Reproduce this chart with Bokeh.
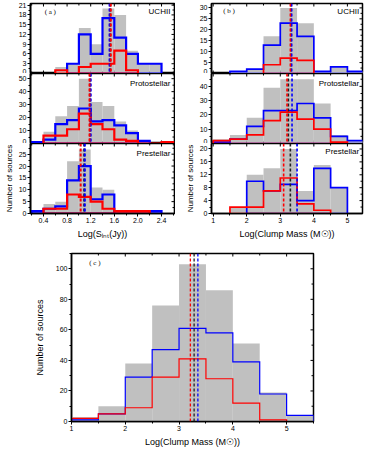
import numpy as np
from bokeh.plotting import figure
from bokeh.layouts import column, row
from bokeh.models import Span, Label, Spacer, Range1d, FixedTicker, PrintfTickFormatter
from bokeh.embed import file_html
from bokeh.resources import INLINE

# ---------------- data ----------------
# panel (a): Log(S_int) histograms, bin edges
A_EDGES = [0.2, 0.4, 0.6, 0.8, 1.0, 1.2, 1.4, 1.6, 1.8, 2.0, 2.2, 2.4, 2.6]
A_UCHII_ALL = [0, 0, 2, 3, 14, 9, 20, 18, 7, 3, 3, 0]
A_UCHII_BLUE = [0, 0, 0, 3, 12, 6, 17, 11, 6, 3, 3, 0]
A_UCHII_RED = [0, 0, 1, 0, 2, 3, 3, 7, 1, 0, 0, 0]
A_PROTO_ALL = [1, 9, 21, 29, 50, 32, 29, 17, 10, 2, 0, 1]
A_PROTO_BLUE = [1, 3, 15, 18, 27, 17, 18, 14, 8, 2, 0, 0]
A_PROTO_RED = [0, 6, 6, 11, 23, 15, 11, 3, 2, 0, 0, 1]
A_PRE_ALL = [1, 4, 5, 22, 27, 11, 10, 1, 1, 1, 1, 0]
A_PRE_BLUE = [1, 2, 3, 14, 20, 6, 8, 0, 0, 0, 1, 0]
A_PRE_RED = [0, 2, 2, 8, 7, 5, 2, 1, 1, 1, 0, 0]
# median lines: [red, black, blue]
A_UCHII_MED = [1.54, 1.53, 1.52]
A_PROTO_MED = [1.18, 1.19, 1.20]
A_PRE_MED = [1.03, 1.09, 1.10]

# panel (b): Log(Clump Mass) histograms
B_EDGES = [1.0, 1.5, 2.0, 2.5, 3.0, 3.5, 4.0, 4.5, 5.0, 5.5]
B_UCHII_ALL = [0, 1, 2, 17, 30, 23, 1, 3, 1]
B_UCHII_BLUE = [0, 1, 2, 13, 23, 17, 1, 3, 1]
B_UCHII_RED = [0, 0, 0, 4, 7, 6, 0, 0, 0]
B_PROTO_ALL = [3, 6, 18, 39, 45, 45, 28, 6, 2]
B_PROTO_BLUE = [1, 3, 12, 23, 23, 28, 18, 5, 2]
B_PROTO_RED = [2, 3, 6, 16, 22, 17, 10, 1, 0]
B_PRE_ALL = [0, 2, 12, 14, 20, 7, 15, 8, 0]
B_PRE_BLUE = [0, 0, 10, 7, 9, 4, 14, 8, 0]
B_PRE_RED = [0, 2, 2, 7, 11, 3, 1, 0, 0]
B_UCHII_MED = [3.30, 3.32, 3.34]
B_PROTO_MED = [3.20, 3.24, 3.35]
B_PRE_MED = [3.10, 3.30, 3.50]

# panel (c): all clumps
C_EDGES = [1.0, 1.5, 2.0, 2.5, 3.0, 3.5, 4.0, 4.5, 5.0, 5.5]
C_ALL = [3, 10, 38, 76, 103, 86, 51, 19, 4]
C_BLUE = [1, 5, 29, 47, 61, 58, 39, 18, 4]
C_RED = [2, 5, 9, 29, 41, 28, 12, 1, 0]
C_MED = [3.21, 3.28, 3.35]

# ticks
A_XTICKS = [0.4, 0.8, 1.2, 1.6, 2.0, 2.4]
A_XMINOR = [0.2, 0.6, 1.0, 1.4, 1.8, 2.2, 2.6]
M_XTICKS = [1, 2, 3, 4, 5]
M_XMINOR = [1.5, 2.5, 3.5, 4.5, 5.5]
A_UCHII_YT = [0, 3, 6, 9, 12, 15, 18, 21]
A_PROTO_YT = [0, 10, 20, 30, 40, 50]
A_PRE_YT = [0, 5, 10, 15, 20, 25]
B_UCHII_YT = [0, 5, 10, 15, 20, 25, 30]
B_PROTO_YT = [0, 10, 20, 30, 40]
B_PRE_YT = [0, 4, 8, 12, 16, 20]
C_YT = [0, 20, 40, 60, 80, 100]

GRAY = "#c0c0c0"
BLUE = "#0000ff"
RED = "#ff0000"
BLACK = "#000000"
FONT = "Liberation Sans"
SERIF = "Liberation Serif"


def halves(ticks):
    t = np.asarray(ticks, float)
    d = t[1] - t[0]
    return list(np.concatenate([t[:-1] + d / 2, [t[-1] + d / 2]]))


def outline(edges, counts):
    e = np.asarray(edges, float)
    c = np.asarray(counts, float)
    nz = np.nonzero(c)[0]
    i0, i1 = nz[0], nz[-1] + 1
    ee = e[i0:i1 + 1]
    cc = c[i0:i1]
    xs = np.concatenate([[ee[0]], np.column_stack([ee[:-1], ee[1:]]).ravel(), [ee[-1], ee[0]]])
    ys = np.concatenate([[0.0], np.repeat(cc, 2), [0.0, 0.0]])
    return xs, ys


def style_axis(ax, ticks, minor, lw, fmt=None):
    ax.ticker = FixedTicker(ticks=ticks, minor_ticks=minor)
    ax.axis_line_width = lw
    ax.axis_line_color = BLACK
    ax.major_tick_line_color = BLACK
    ax.minor_tick_line_color = BLACK
    ax.major_tick_line_width = 1
    ax.minor_tick_line_width = 1
    ax.major_tick_out, ax.major_tick_in = 3, 0
    ax.minor_tick_out, ax.minor_tick_in = 2, 0
    ax.major_label_text_font = FONT
    ax.major_label_text_font_size = "7px"
    ax.major_label_text_color = BLACK
    ax.major_label_standoff = 1
    if fmt:
        ax.formatter = PrintfTickFormatter(format=fmt)
    ax.axis_label_text_font = FONT
    ax.axis_label_text_font_style = "normal"
    ax.axis_label_text_color = BLACK


def inner_ticks(p, xr, yr, xt, xm, yt, ym, bottom):
    """Inward tick marks on the top (and optionally bottom) and right edges."""
    rows = [yr[1]] + ([yr[0]] if bottom else [])
    for yy in rows:
        for ticks, sz in ((xt, 6), (xm, 4)):
            p.scatter(x=ticks, y=[yy] * len(ticks), marker="dash", angle=np.pi / 2,
                      size=sz, line_color=BLACK, line_width=1)
    for ticks, sz in ((yt, 6), (ym, 4)):
        p.scatter(x=[xr[1]] * len(ticks), y=ticks, marker="dash",
                  size=sz, line_color=BLACK, line_width=1)


def make_panel(xr, yr, size, borders, xt, xm, yt, ym, xlabels, lw,
               xfmt=None, xtitle=None, ytitle=None, ytitle_size="8px", ytitle_standoff=2):
    p = figure(width=size[0], height=size[1],
               x_range=Range1d(*xr), y_range=Range1d(*yr),
               output_backend="svg", toolbar_location=None, title_location=None,
               x_axis_location="below" if xlabels else None,
               min_border_left=borders[0], min_border_right=borders[1],
               min_border_top=borders[2], min_border_bottom=borders[3])
    p.xgrid.visible = False
    p.ygrid.visible = False
    p.outline_line_color = BLACK
    p.outline_line_width = lw
    p.background_fill_color = "white"
    p.border_fill_color = "white"
    ly = p.left[0]
    style_axis(ly, yt, ym, lw)
    if ytitle:
        ly.axis_label = ytitle
        ly.axis_label_standoff = ytitle_standoff
        ly.axis_label_text_font_size = ytitle_size
    if xlabels:
        bx = p.below[0]
        style_axis(bx, xt, xm, lw, xfmt)
        bx.axis_label_text_font_size = "9px"
        if xtitle:
            bx.axis_label = xtitle
            bx.axis_label_standoff = 3
    inner_ticks(p, xr, yr, xt, xm, yt, ym, bottom=not xlabels)
    return p


def add_hist(p, edges, total, blue, red, lw):
    e = np.asarray(edges, float)
    p.quad(left=e[:-1], right=e[1:], bottom=0, top=total,
           fill_color=GRAY, line_color=None)
    for counts, col in ((blue, BLUE), (red, RED)):
        xs, ys = outline(e, counts)
        p.line(xs, ys, line_color=col, line_width=lw, line_join="miter")


def add_medians(p, med, lw, dash):
    r, k, b = med
    for loc, col in ((k, "#202020"), (b, BLUE), (r, RED)):
        p.add_layout(Span(location=loc, dimension="height", line_color=col,
                          line_width=lw, line_dash=dash))


def add_text(p, x, y, txt, align="right", font=FONT, size="8px"):
    p.add_layout(Label(x=x, y=y, text=txt, text_font=font, text_font_size=size,
                       text_align=align, text_baseline="middle", text_color=BLACK))


FH = 70
A_W, B_W = 175, 189          # full figure widths (borders + frame)
A_B, B_B = (30, 1), (36, 2)  # left/right borders
BOT = 30
TOP = 3
A_XR = (0.18, 2.62)
B_XR = (0.95, 5.45)
LW_A, LW_B, LW_C = 2.2, 1.7, 1.2

# ---- column (a)
fa1 = make_panel(A_XR, (0, 21.5), (A_W, TOP + FH), A_B + (TOP, 0), A_XTICKS, A_XMINOR,
                 A_UCHII_YT, halves(A_UCHII_YT), False, 1.6)
add_hist(fa1, A_EDGES, A_UCHII_ALL, A_UCHII_BLUE, A_UCHII_RED, LW_A)
add_medians(fa1, A_UCHII_MED, 2, "3 2")
add_text(fa1, 2.55, 19.0, "UCHII")
add_text(fa1, 0.42, 19.0, "( a )", align="left", font=SERIF, size="7px")

fa2 = make_panel(A_XR, (0, 54), (A_W, FH), A_B + (0, 0), A_XTICKS, A_XMINOR,
                 A_PROTO_YT, halves(A_PROTO_YT), False, 1.6)
add_hist(fa2, A_EDGES, A_PROTO_ALL, A_PROTO_BLUE, A_PROTO_RED, LW_A)
add_medians(fa2, A_PROTO_MED, 2, "3 2")
add_text(fa2, 2.55, 46.0, "Protostellar")

fa3 = make_panel(A_XR, (0, 29.5), (A_W, FH + BOT), A_B + (0, BOT), A_XTICKS, A_XMINOR,
                 A_PRE_YT, halves(A_PRE_YT), True, 1.6, xfmt="%.1f",
                 xtitle="Log(S\u1d62\u2099\u209c(Jy))", ytitle="Number of sources")
add_hist(fa3, A_EDGES, A_PRE_ALL, A_PRE_BLUE, A_PRE_RED, LW_A)
add_medians(fa3, A_PRE_MED, 2, "3 2")
add_text(fa3, 2.55, 25.3, "Prestellar")

# ---- column (b)
fb1 = make_panel(B_XR, (0, 32), (B_W, TOP + FH), B_B + (TOP, 0), M_XTICKS, M_XMINOR,
                 B_UCHII_YT, halves(B_UCHII_YT), False, 1.5)
add_hist(fb1, B_EDGES, B_UCHII_ALL, B_UCHII_BLUE, B_UCHII_RED, LW_B)
add_medians(fb1, B_UCHII_MED, 1.6, "3 2")
add_text(fb1, 5.35, 28.5, "UCHII")
add_text(fb1, 1.3, 28.5, "( b )", align="left", font=SERIF, size="7px")

fb2 = make_panel(B_XR, (0, 49), (B_W, FH), B_B + (0, 0), M_XTICKS, M_XMINOR,
                 B_PROTO_YT, halves(B_PROTO_YT), False, 1.5)
add_hist(fb2, B_EDGES, B_PROTO_ALL, B_PROTO_BLUE, B_PROTO_RED, LW_B)
add_medians(fb2, B_PROTO_MED, 1.6, "3 2")
add_text(fb2, 5.35, 42.0, "Protostellar")

fb3 = make_panel(B_XR, (0, 21.7), (B_W, FH + BOT), B_B + (0, BOT), M_XTICKS, M_XMINOR,
                 B_PRE_YT, halves(B_PRE_YT), True, 1.5,
                 xtitle="Log(Clump Mass (M\u2609))", ytitle="Number of sources")
add_hist(fb3, B_EDGES, B_PRE_ALL, B_PRE_BLUE, B_PRE_RED, LW_B)
add_medians(fb3, B_PRE_MED, 1.6, "3 2")
add_text(fb3, 5.35, 19.2, "Prestellar")

# ---- panel (c)
C_BOT = 28
fc = make_panel((1.0, 5.5), (0, 110), (40 + 242 + 4, 10 + 168 + C_BOT), (40, 4, 10, C_BOT),
                M_XTICKS, M_XMINOR, C_YT, halves(C_YT), True, 1.5,
                xtitle="Log(Clump Mass (M\u2609))", ytitle="Number of sources",
                ytitle_size="9px", ytitle_standoff=8)
add_hist(fc, C_EDGES, C_ALL, C_BLUE, C_RED, LW_C)
add_medians(fc, C_MED, 1.3, "3 2")
add_text(fc, 1.33, 104.0, "( c )", align="left", font=SERIF, size="7px")

col_a = column(fa1, fa2, fa3)
col_b = column(fb1, fb2, fb3)
page = column(row(col_a, col_b), row(Spacer(width=31, height=10), fc))

open("out.html", "w").write(file_html(page, INLINE))
